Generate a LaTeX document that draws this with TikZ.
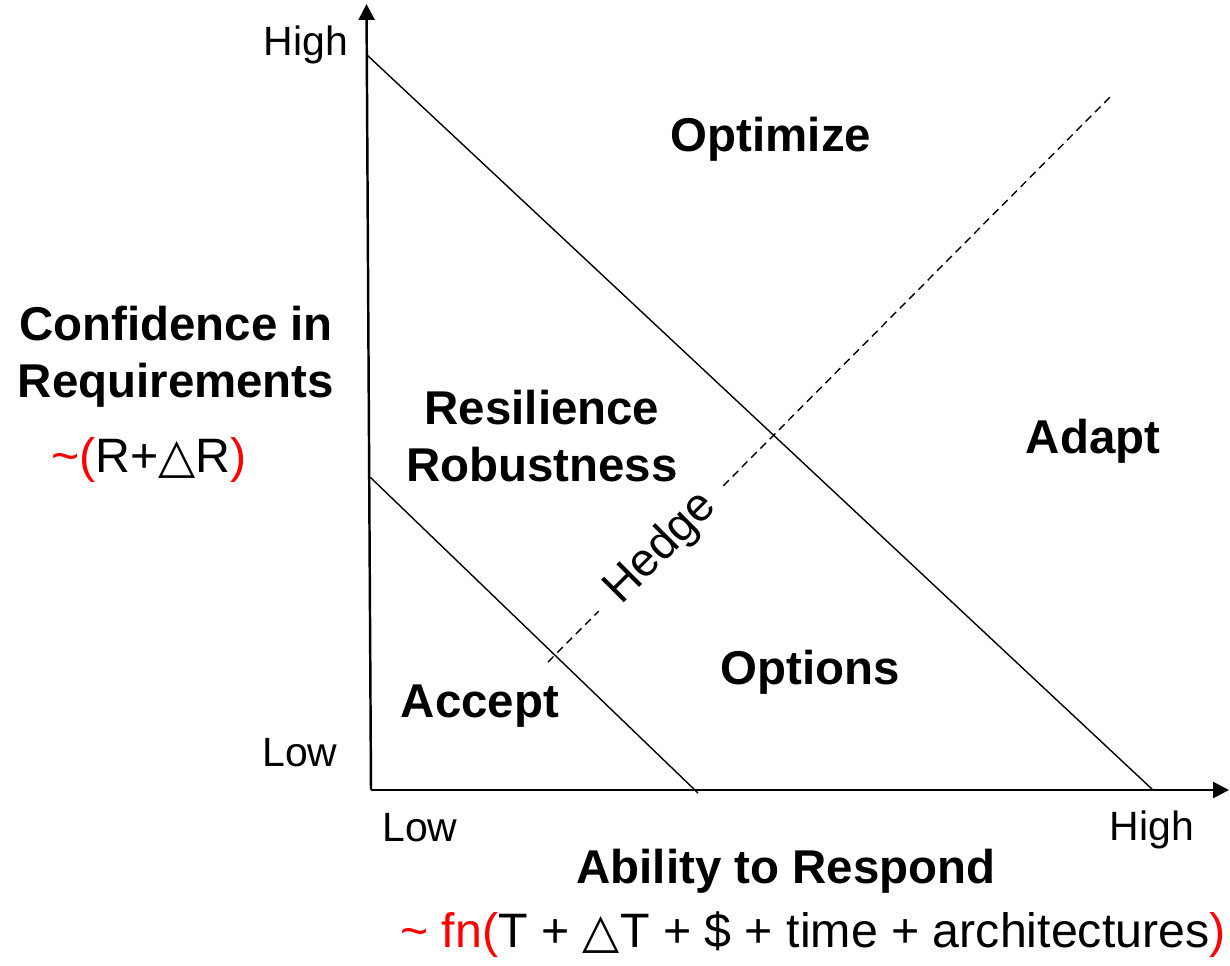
\documentclass[tikz,border=0pt]{standalone}
\usepackage{fontspec}
\setmainfont{Liberation Sans}
\newfontfamily\symfont{DejaVu Sans}
\usetikzlibrary{arrows.meta,calc}
\tikzset{
  axis/.style={line width=1.4pt,-{Triangle[length=9pt,width=9pt]}},
  bound/.style={line width=0.8pt},
  hedgeline/.style={line width=0.8pt,dash pattern=on 4.5pt off 3pt},
  level/.style={font=\fontsize{23.3}{28}\selectfont,inner sep=0pt},
  formula/.style={font=\fontsize{27.5}{33}\selectfont,inner sep=0pt},
  region/.style={font=\bfseries\fontsize{27}{32.5}\selectfont,inner sep=0pt,align=center}
}
\newcommand{\tri}{{\symfont △}}

\begin{document}
\begin{tikzpicture}[x=0.02cm,y=-0.02cm]
  \useasboundingbox (0,0) rectangle (1230,965);
  \coordinate (origin) at (371,790);
  \coordinate (ytop) at (366.5,4);
  \coordinate (xend) at (1229,790);
  \coordinate (outer1) at (367,55);
  \coordinate (outer2) at (1153,790);
  \coordinate (inner1) at (370,477);
  \coordinate (inner2) at (698,793);
  \coordinate (h1) at (548,662);
  \coordinate (h2) at (1113,94);

  \draw[axis] (origin) -- (ytop);
  \draw[axis] (origin) -- (xend);
  \draw[bound] (outer1) -- (outer2);
  \draw[bound] (inner1) -- (inner2);
  \node[formula,font=\fontsize{26.5}{32}\selectfont,rotate=45,inner xsep=11pt] (hedge) at ($(h1)!0.2!(h2)$) {Hedge};
  \draw[hedgeline] (h1) -- (hedge) -- (h2);

  \node[level] (yhigh) at (306,45) {High};
  \node[level] (ylow) at (300,753) {Low};
  \node[level] (xlow) at (420,828) {Low};
  \node[level] (xhigh) at (1152,830) {High};

  \node[region] (ylabel) at (176,357) {Confidence in\\Requirements};
  \node[formula] (yfn) at (149,460) {\textcolor{red}{\textasciitilde(}R+\tri R\textcolor{red}{)}};
  \node[region] (xlabel) at (786,871) {Ability to Respond};
  \node[formula] (xfn) at (813,935) {\textcolor{red}{\textasciitilde{} fn(}T + \tri T + \$ + time + architectures\textcolor{red}{)}};

  \node[region] (optimize) at (771,139) {Optimize};
  \node[region] (resilience) at (542,436) {Resilience\\Robustness};
  \node[region] (adapt) at (1093,441) {Adapt};
  \node[region] (options) at (810,672) {Options};
  \node[region] (accept) at (480,706) {Accept};
\end{tikzpicture}
\end{document}
